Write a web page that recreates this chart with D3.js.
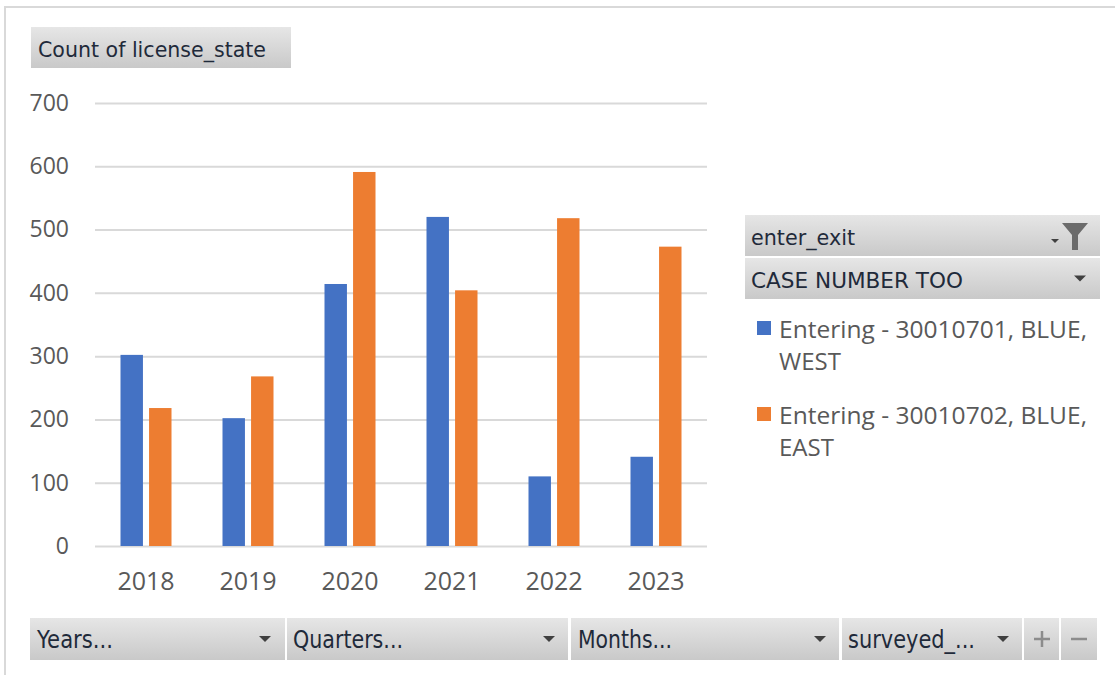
<!DOCTYPE html>
<html lang="en">
<head>
  <meta charset="UTF-8">
  <title>Count of license_state</title>
  <script src="https://d3js.org/d3.v7.min.js"></script>
  <style>
    body { margin: 0; background: #fff; font-family: "Open Sans", sans-serif; }
    .tick text { fill: #595959; font-size: 23px; font-family: "Open Sans", sans-serif; }
    .x-axis .tick text { font-size: 25px; }
    .btn text { fill: #1f2a3a; font-family: "DejaVu Sans", sans-serif; }
  </style>
</head>
<body>
  <svg width="1115" height="675"></svg>
  <script>
    const years = ["2018", "2019", "2020", "2021", "2022", "2023"];
    const west = [302, 202, 414, 520, 110, 141];
    const east = [218, 268, 591, 404, 518, 473];
    const seriesNames = ["Entering - 30010701, BLUE,|WEST", "Entering - 30010702, BLUE,|EAST"];
    const colors = ["#4472C4", "#ED7D31"];
    const yTicks = [0, 100, 200, 300, 400, 500, 600, 700];

    const svg = d3.select("svg");

    // gradient for the pivot buttons
    const defs = svg.append("defs");
    const grad = defs.append("linearGradient").attr("id", "btn").attr("x1", 0).attr("x2", 0).attr("y1", 0).attr("y2", 1);
    grad.append("stop").attr("offset", "0%").attr("stop-color", "#e6e6e6");
    grad.append("stop").attr("offset", "100%").attr("stop-color", "#c9c9c9");

    // chart area border
    svg.append("path")
      .attr("d", "M5,675 V7 H1115")
      .attr("fill", "none").attr("stroke", "#d9d9d9").attr("stroke-width", 2);

    const x = d3.scaleBand().domain(years).range([95, 707]);
    const y = d3.scaleLinear().domain([0, 700]).range([546, 103]);

    // gridlines + y labels
    const yAxis = svg.append("g")
      .attr("transform", "translate(95,0)")
      .call(d3.axisLeft(y).tickValues(yTicks).tickSize(-612).tickPadding(26));
    yAxis.select(".domain").remove();
    yAxis.selectAll(".tick line").attr("stroke", "#d9d9d9").attr("stroke-width", 2);

    const xAxis = svg.append("g")
      .attr("class", "x-axis")
      .attr("transform", "translate(0,546)")
      .call(d3.axisBottom(x).tickSize(0).tickPadding(26));
    xAxis.select(".domain").remove();

    // bars
    const bw = x.bandwidth() * 0.22, gap = x.bandwidth() * 0.06;
    [west, east].forEach((vals, s) => {
      svg.append("g").selectAll("rect")
        .data(vals)
        .join("rect")
        .attr("x", (d, i) => x(years[i]) + x.bandwidth() / 2 - bw - gap / 2 + s * (bw + gap))
        .attr("y", d => y(d))
        .attr("width", bw)
        .attr("height", d => y(0) - y(d))
        .attr("fill", colors[s]);
    });

    function button(x0, y0, w, h, label, tx, tlen, fs, arrowX) {
      const g = svg.append("g").attr("class", "btn");
      g.append("rect").attr("x", x0).attr("y", y0).attr("width", w).attr("height", h).attr("fill", "url(#btn)");
      if (label) {
        const t = g.append("text").attr("x", tx).attr("y", y0 + h * 0.72).attr("font-size", fs).text(label);
        if (tlen) t.attr("textLength", tlen).attr("lengthAdjust", "spacingAndGlyphs");
      }
      if (arrowX) {
        g.append("path")
          .attr("d", `M${arrowX - 6},${y0 + h / 2 - 3} h12 l-6,6 z`)
          .attr("fill", "#404040");
      }
      return g;
    }

    // title button
    button(31, 27, 260, 41, "Count of license_state", 38, 228, 22);

    // legend header buttons
    const h1 = button(745, 215, 355, 41, "enter_exit", 751, 104, 22);
    h1.append("path").attr("d", "M1062,223 h26 l-10,12 v15 h-6 v-15 z").attr("fill", "#6b6b6b");
    h1.append("path").attr("d", "M1051,239 h8 l-4,4 z").attr("fill", "#404040");
    button(745, 258, 355, 41, "CASE NUMBER TOO", 751, 212, 22, 1080);

    // legend items
    const leg = svg.append("g");
    const legY = [321, 407];
    seriesNames.forEach((name, i) => {
      leg.append("rect").attr("x", 757).attr("y", legY[i]).attr("width", 14).attr("height", 14).attr("fill", colors[i]);
      const lines = name.split("|");
      lines.forEach((ln, j) => {
        const t = leg.append("text")
          .attr("x", 779).attr("y", legY[i] + 17 + j * 32)
          .attr("fill", "#595959").attr("font-size", 24)
          .text(ln);
        if (j === 0) t.attr("textLength", 308).attr("lengthAdjust", "spacingAndGlyphs");
      });
    });

    // bottom field buttons
    button(30, 618, 255, 42, "Years...", 37, 76, 24, 265);
    button(287, 618, 281, 42, "Quarters...", 293, 110, 24, 549);
    button(571, 618, 268, 42, "Months...", 578, 94, 24, 820);
    button(842, 618, 180, 42, "surveyed_...", 848, 127, 24, 1003);
    const plus = button(1024, 618, 35, 42);
    plus.append("path").attr("d", "M1034,639 h16 M1042,631 v16").attr("stroke", "#8c8c8c").attr("stroke-width", 2.5);
    const minus = button(1061, 618, 36, 42);
    minus.append("path").attr("d", "M1071,639 h16").attr("stroke", "#8c8c8c").attr("stroke-width", 2.5);
  </script>
</body>
</html>
